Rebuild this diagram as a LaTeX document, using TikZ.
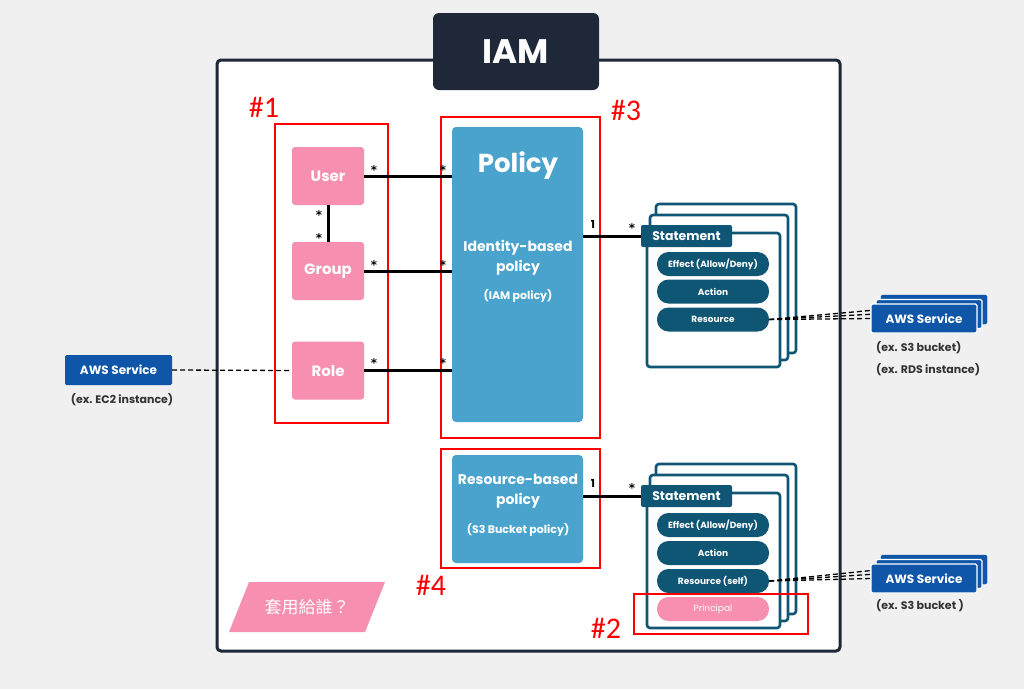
\documentclass[tikz,border=0pt]{standalone}
\usepackage{fontspec}
\setmainfont{Poppins}
\newfontfamily\redfont{Carlito}
\newfontfamily\starfont{DejaVu Sans}
\newfontfamily\cjk{Noto Sans CJK TC}
\definecolor{bgc}{HTML}{F0F0F0}
\definecolor{darkc}{HTML}{1E2838}
\definecolor{pinkc}{HTML}{F68FB0}
\definecolor{polc}{HTML}{4AA3CD}
\definecolor{tealc}{HTML}{0F5675}
\definecolor{awsblue}{HTML}{0F56A8}
\definecolor{redc}{HTML}{FF0000}
\definecolor{graytxt}{HTML}{333333}
\begin{document}
\begin{tikzpicture}[x=1pt,y=-1pt,
 pinkbox/.style={fill=pinkc, rounded corners=3pt, text=white, font=\bfseries\fontsize{15}{18}\selectfont, minimum width=72pt, minimum height=58pt, inner sep=0pt},
 polbox/.style={fill=polc, rounded corners=4pt, minimum width=131pt, inner sep=0pt},
 poltxt/.style={text=white, font=\bfseries\fontsize{14}{20}\selectfont, align=center, inner sep=0pt},
 conn/.style={line width=3pt, black},
 star/.style={font=\starfont\bfseries\fontsize{12}{12}\selectfont, inner sep=0pt},
 one/.style={font=\bfseries\fontsize{11}{11}\selectfont, inner sep=0pt},
 redbox/.style={draw=redc, line width=2pt},
 redlbl/.style={text=redc, font=\redfont\fontsize{30}{30}\selectfont, inner sep=0pt},
 page/.style={draw=tealc, fill=white, line width=2.6pt, rounded corners=3pt},
 stab/.style={fill=tealc, text=white, font=\bfseries\fontsize{12.5}{12.5}\selectfont, minimum width=91pt, minimum height=22pt, inner sep=0pt, rounded corners=2pt},
 pill/.style={fill=tealc, text=white, font=\bfseries\fontsize{9}{9}\selectfont, minimum width=112pt, minimum height=24pt, rounded corners=11.5pt, inner sep=0pt},
 aws/.style={fill=awsblue, text=white, font=\bfseries\fontsize{12}{12}\selectfont, minimum width=106pt, minimum height=29pt, inner sep=0pt, rounded corners=1.5pt},
 awsback/.style={fill=awsblue, draw=white, line width=1.2pt, minimum width=106pt, minimum height=29pt, inner sep=0pt, rounded corners=1.5pt},
 dsh/.style={dash pattern=on 5pt off 3pt, line width=1.3pt, black},
 extxt/.style={text=graytxt, font=\bfseries\fontsize{11}{11}\selectfont, inner sep=0pt}
]
\fill[bgc] (0,0) rectangle (1024,689);
\useasboundingbox (0,0) rectangle (1024,689);

% main frame
\draw[draw=darkc, line width=3pt, fill=white, rounded corners=4pt] (217,60) rectangle (840,651);
\node[fill=darkc, rounded corners=6pt, minimum width=166pt, minimum height=77pt, inner sep=0pt, text=white, font=\bfseries\fontsize{34}{34}\selectfont] (iam) at (516,51.5) {IAM};

% identities
\node[pinkbox] (user) at (328,176) {User};
\node[pinkbox] (group) at (328,271) {Group};
\node[pinkbox] (role) at (328,370.5) {Role};

% policies
\node[polbox, minimum height=295pt] (policy) at (517.5,274.5) {};
\node[poltxt, font=\bfseries\fontsize{26}{26}\selectfont] (poltitle) at (518,166) {Policy};
\node[poltxt] (idtxt) at (518,258) {Identity-based\\policy};
\node[poltxt, font=\bfseries\fontsize{11}{11}\selectfont] (iamtxt) at (518,296) {(IAM policy)};

\node[polbox, minimum height=108pt] (rpolicy) at (517.5,509) {};
\node[poltxt] (rtxt) at (518,491) {Resource-based\\policy};
\node[poltxt, font=\bfseries\fontsize{11}{11}\selectfont] (s3txt) at (518,530) {(S3 Bucket policy)};

% statement stack 1
\draw[page] (656,204) rectangle (796,353);
\draw[page] (650,215) rectangle (788,360);
\draw[page] (647,233) rectangle (780,367);
\node[stab] (st1) at (686.5,236) {Statement};
\node[pill] (eff1) at (713,264) {Effect (Allow/Deny)};
\node[pill] (act1) at (713,291.5) {Action};
\node[pill] (res1) at (713,319.5) {Resource};

% statement stack 2
\draw[page] (656,464) rectangle (796,614);
\draw[page] (650,475) rectangle (788,621);
\draw[page] (647,493) rectangle (780,628);
\node[stab] (st2) at (686.5,496) {Statement};
\node[pill] (eff2) at (713,525) {Effect (Allow/Deny)};
\node[pill] (act2) at (713,553) {Action};
\node[pill] (res2) at (713,581) {Resource (self)};
\node[pill, fill=pinkc, font=\fontsize{9}{9}\selectfont] (prin) at (713,609) {Principal};

% AWS services right
\coordinate (a1b) at (881,309.5);
\coordinate (a1m) at (876,314);
\draw[dsh] (res1.east) -- (a1b);
\draw[dsh] (res1.east) -- (a1m);
\node[aws, draw=awsblue] (aws1b) at (934,309.5) {};
\node[awsback] (aws1m) at (929,314) {};
\node[awsback, text=white, font=\bfseries\fontsize{12}{12}\selectfont] (aws1) at (924,318.5) {AWS Service};
\draw[dsh] (res1.east) -- (aws1.west);
\node[extxt, anchor=west] (ex1) at (876,348) {(ex. S3 bucket)};
\node[extxt, anchor=west] (ex2) at (876,370) {(ex. RDS instance)};

\coordinate (a2b) at (881,569.5);
\coordinate (a2m) at (876,574);
\draw[dsh] (res2.east) -- (a2b);
\draw[dsh] (res2.east) -- (a2m);
\node[aws, draw=awsblue] (aws2b) at (934,569.5) {};
\node[awsback] (aws2m) at (929,574) {};
\node[awsback, text=white, font=\bfseries\fontsize{12}{12}\selectfont] (aws2) at (924,578.5) {AWS Service};
\draw[dsh] (res2.east) -- (aws2.west);
\node[extxt, anchor=west] (ex3) at (876,606) {(ex. S3 bucket )};

% AWS service left
\node[aws, minimum width=107pt, minimum height=30pt] (awsL) at (118.5,370) {AWS Service};
\node[extxt] (ex4) at (122,400) {(ex. EC2 instance)};

% apply to whom
\fill[pinkc] (249,582) -- (385,582) -- (365,632) -- (229,632) -- cycle;
\node[text=white, font=\cjk\fontsize{17}{17}\selectfont, inner sep=0pt] (who) at (307,607) {套用給誰？};

% red highlight boxes
\draw[redbox] (275,124) rectangle (388,423);
\draw[redbox] (441,117) rectangle (600,438);
\draw[redbox] (441,449) rectangle (600,568);
\draw[redbox] (634,594) rectangle (808,634);
\node[redlbl] (l1) at (264,107) {\#1};
\node[redlbl] (l3) at (626,110) {\#3};
\node[redlbl] (l4) at (431,585) {\#4};
\node[redlbl] (l2) at (606,628) {\#2};

% connectors
\draw[conn] (user.east) -- (user.east -| policy.west);
\draw[conn] (group.east) -- (group.east -| policy.west);
\draw[conn] (role.east) -- (role.east -| policy.west);
\draw[conn] (user.south) -- (group.north);
\draw[conn] (policy.east |- st1.west) -- (st1.west);
\draw[conn] (rpolicy.east |- st2.west) -- (st2.west);
\draw[dsh] (awsL.east) -- (role.west);

\node[star] at (374,170) {*};
\node[star] at (443,170) {*};
\node[star] at (374,265) {*};
\node[star] at (443,265) {*};
\node[star] at (374,363) {*};
\node[star] at (443,363) {*};
\node[star] at (319,215) {*};
\node[star] at (319,238) {*};
\node[one] at (593,224) {1};
\node[star] at (632,228) {*};
\node[one] at (593,483) {1};
\node[star] at (632,488) {*};
\end{tikzpicture}
\end{document}
